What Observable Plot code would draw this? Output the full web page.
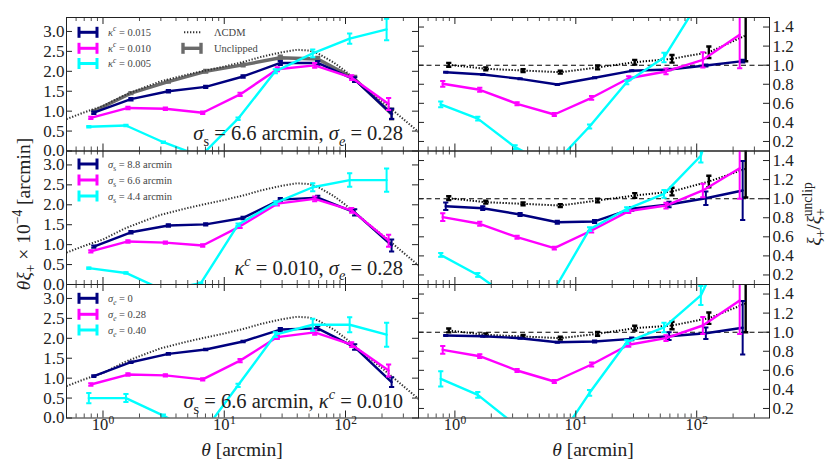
<!DOCTYPE html>
<html><head><meta charset="utf-8">
<script src="https://cdn.jsdelivr.net/npm/d3@7"></script>
<script src="https://cdn.jsdelivr.net/npm/@observablehq/plot@0.6"></script>
<style>
body{margin:0;background:#fff;}
#wrap{position:relative;width:831px;height:468px;overflow:hidden;background:#fff;font-family:"Liberation Serif",serif;}
#wrap svg{position:absolute;left:0;top:0;}
</style></head><body><div id="wrap"></div>
<script>
// ---------- data ----------
const theta = [0.84, 1.70, 3.46, 7.03, 14.3, 29.0, 59.0, 119, 240];
const thetaTheory = [0.5,0.7,1,1.5,2,3,5,7,10,15,20,30,40,50,60,80,100,150,200,300,400];
const xiTheory = [0.80,0.97,1.13,1.40,1.55,1.75,1.92,2.02,2.12,2.25,2.36,2.48,2.54,2.52,2.44,2.22,2.00,1.55,1.25,0.80,0.48];

// top-left: kappa^c variations
const tlGray = [1.00, 1.45, 1.74, 2.00, 2.16, 2.34, 2.31, 1.81, 0.93];
const tlGrayErr = [0.02,0.02,0.02,0.03,0.03,0.05,0.05,0.07,0.13];
const tlNavy = [0.96, 1.30, 1.50, 1.61, 1.87, 2.21, 2.21, 1.79, 0.93];
const tlNavyErr = [0.03,0.03,0.03,0.03,0.03,0.05,0.05,0.06,0.13];
const tlMag = [0.83, 1.08, 1.06, 0.96, 1.42, 2.05, 2.15, 1.84, 1.18];
const tlMagErr = [0.03,0.03,0.03,0.03,0.04,0.05,0.06,0.06,0.15];
const tlCyan = [0.61, 0.64, 0.22, -0.13, 0.81, 2.00, 2.45, 2.82, 3.05];
const tlCyanErr = [0.02,0.02,0.02,0.02,0.03,0.05,0.10,0.13,0.27];
// top-right ratios
const trBlack = [1.004, 0.962, 0.944, 0.926, 0.976, 1.031, 1.067, 1.136, 1.311];
const trBlackErr = [0.02,0.015,0.015,0.015,0.02,0.025,0.04,0.06,0.27];
const trNavy = [0.926, 0.902, 0.857, 0.797, 0.868, 0.941, 0.955, 0.997, 1.042];
const trNavyErr = [0.005,0.005,0.005,0.005,0.005,0.005,0.008,0.01,0.015];
const trMag = [0.805, 0.742, 0.595, 0.483, 0.658, 0.863, 0.934, 1.056, 1.319];
const trMagErr = [0.03,0.02,0.015,0.015,0.02,0.02,0.03,0.08,0.35];
const trCyan = [0.59, 0.44, 0.14, -0.06, 0.357, 0.82, 1.08, 1.70, 3.3];
const trCyanErr = [0.03,0.02,0.02,0.02,0.02,0.02,0.05,0.10,0.30];

// middle-left: sigma_s variations
const mlNavy = [0.95, 1.31, 1.48, 1.51, 1.67, 2.13, 2.18, 1.81, 0.98];
const mlNavyErr = [0.03,0.03,0.03,0.03,0.03,0.04,0.05,0.08,0.15];
const mlMag = [0.83, 1.08, 1.05, 0.98, 1.46, 2.03, 2.15, 1.86, 1.10];
const mlMagErr = [0.03,0.03,0.03,0.03,0.04,0.05,0.06,0.06,0.15];
const mlCyan = [0.41, 0.29, -0.14, 0.03, 1.50, 2.05, 2.44, 2.62, 2.62];
const mlCyanErr = [0.02,0.02,0.02,0.02,0.03,0.04,0.10,0.17,0.29];
// middle-right ratios
const mrBlack = [1.005, 0.963, 0.946, 0.928, 0.981, 1.033, 1.075, 1.18, 1.313];
const mrBlackErr = [0.02,0.015,0.015,0.015,0.02,0.025,0.04,0.06,0.30];
const mrNavy = [0.921, 0.900, 0.834, 0.753, 0.761, 0.894, 0.939, 1.005, 1.086];
const mrNavyErr = [0.04,0.02,0.015,0.015,0.015,0.02,0.03,0.07,0.31];
const mrMag = [0.806, 0.737, 0.596, 0.481, 0.666, 0.869, 0.928, 1.086, 1.32];
const mrMagErr = [0.04,0.02,0.015,0.015,0.02,0.02,0.03,0.07,0.32];
const mrCyan = [0.41, 0.20, -0.08, 0.01, 0.68, 0.89, 1.05, 1.45, 2.65];
const mrCyanErr = [0.02,0.02,0.02,0.02,0.02,0.02,0.04,0.07,0.30];

// bottom-left: sigma_e variations
const blNavy = [1.05, 1.40, 1.61, 1.72, 1.92, 2.22, 2.25, 1.78, 0.90];
const blNavyErr = [0.02,0.02,0.02,0.02,0.02,0.04,0.05,0.07,0.12];
const blMag = [0.84, 1.09, 1.07, 0.97, 1.44, 2.03, 2.15, 1.84, 1.19];
const blMagErr = [0.03,0.03,0.03,0.03,0.04,0.05,0.06,0.06,0.15];
const blCyan = [0.50, 0.50, 0.06, -0.45, 0.82, 2.09, 2.34, 2.34, 2.09];
const blCyanErr = [0.13,0.10,0.03,0.03,0.04,0.06,0.15,0.19,0.30];
// bottom-right ratios
const brBlack = [1.018, 0.972, 0.955, 0.937, 0.983, 1.042, 1.07, 1.147, 1.30];
const brBlackErr = [0.02,0.015,0.015,0.015,0.02,0.025,0.04,0.06,0.30];
const brNavy = [0.965, 0.958, 0.937, 0.895, 0.902, 0.930, 0.958, 0.989, 1.046];
const brNavyErr = [0.005,0.005,0.005,0.005,0.01,0.015,0.04,0.06,0.28];
const brMag = [0.815, 0.748, 0.598, 0.483, 0.661, 0.868, 0.937, 1.07, 1.332];
const brMagErr = [0.04,0.02,0.015,0.015,0.02,0.02,0.03,0.09,0.35];
const brCyan = [0.511, 0.343, 0.03, -0.22, 0.364, 0.895, 1.05, 1.385, 2.2];
const brCyanErr = [0.08,0.03,0.02,0.02,0.03,0.02,0.05,0.10,0.30];

const xMajorTicks = [1, 10, 100];
const xMinorTicks = [0.6,0.7,0.8,0.9,2,3,4,5,6,7,8,9,20,30,40,50,60,70,80,90,200,300];
const leftYTicks = [0, 0.5, 1.0, 1.5, 2.0, 2.5, 3.0];
const rightYTicks = [0.2, 0.4, 0.6, 0.8, 1.0, 1.2, 1.4];

// ---------- layout / style ----------
const W = 831, H = 468;
const colX = [[66, 418], [418, 769]];
const rowY = [[17, 150.5], [150.5, 284], [284, 417.5]];
const FONT = "Liberation Serif";
const C = {navy: "#00007f", mag: "#ff00ff", cyan: "#00ffff", gray: "#6a6a6a", black: "#000000"};
const DX = {navy: 0, mag: -3, cyan: -5, gray: 0, black: 3};
const DOTS = "1.3,1.7";

const rows = (ys, es) => theta.map((x, i) => ({x, y: ys[i], e: es[i]}));
const theory = thetaTheory.map((x, i) => ({x, y: xiTheory[i]}));

const capSymbol = {draw(ctx, size) { const r = Math.sqrt(size / Math.PI); ctx.moveTo(-r, 0); ctx.lineTo(r, 0); }};

function seriesMarks(data, color, dx, lw, ew, dash) {
  return [
    Plot.line(data, {x: "x", y: "y", stroke: color, strokeWidth: lw, dx, clip: true,
      strokeDasharray: dash, strokeLinecap: dash ? "butt" : "round"}),
    Plot.ruleX(data, {x: "x", y1: d => d.y - d.e, y2: d => d.y + d.e, stroke: color, strokeWidth: ew, dx, clip: true}),
    Plot.dot(data, {x: "x", y: d => d.y - d.e, symbol: capSymbol, r: 2.6, fill: "none", stroke: color, strokeWidth: ew, dx, clip: true}),
    Plot.dot(data, {x: "x", y: d => d.y + d.e, symbol: capSymbol, r: 2.6, fill: "none", stroke: color, strokeWidth: ew, dx, clip: true})
  ];
}

function panel(r, c, content) {
  const [x0, x1] = colX[c], [y0, y1] = rowY[r];
  const fw = x1 - x0, fh = y1 - y0;
  const yTicks = c === 0 ? leftYTicks : rightYTicks;
  const marks = [...content];
  marks.push(
    Plot.tickX(xMajorTicks, {x: d => d, insetTop: fh - 7, stroke: "#222", strokeWidth: 1}),
    Plot.tickX(xMajorTicks, {x: d => d, insetBottom: fh - 7, stroke: "#222", strokeWidth: 1}),
    Plot.tickX(xMinorTicks, {x: d => d, insetTop: fh - 4, stroke: "#222", strokeWidth: 0.8}),
    Plot.tickX(xMinorTicks, {x: d => d, insetBottom: fh - 4, stroke: "#222", strokeWidth: 0.8}),
    Plot.tickY(yTicks, {y: d => d, insetRight: fw - 6, stroke: "#222", strokeWidth: 1}),
    Plot.tickY(yTicks, {y: d => d, insetLeft: fw - 6, stroke: "#222", strokeWidth: 1}),
    Plot.frame({stroke: "#222", strokeWidth: 1})
  );
  if (c === 0) {
    marks.push(Plot.text(yTicks, {y: d => d, text: d => d.toFixed(1), frameAnchor: "left", textAnchor: "end", dx: -2, fontSize: 17, fill: "#222"}));
  } else {
    marks.push(Plot.text(yTicks, {y: d => d, text: d => d.toFixed(1), frameAnchor: "right", textAnchor: "start", dx: 3, fontSize: 17, fill: "#222"}));
  }
  if (r === 2) {
    marks.push(
      Plot.text(xMajorTicks, {x: d => d, text: () => "10", frameAnchor: "bottom", dy: 12, dx: -3, fontSize: 16.5, fill: "#222"}),
      Plot.text(xMajorTicks, {x: d => d, text: d => String(Math.round(Math.log10(d))), frameAnchor: "bottom", dy: 6, dx: 8.5, fontSize: 11.5, fill: "#222"})
    );
  }
  return Plot.plot({
    width: W, height: H,
    marginLeft: x0, marginRight: W - x1, marginTop: y0, marginBottom: H - y1,
    x: {type: "log", domain: [0.5, 400], axis: null},
    y: {domain: c === 0 ? [0, 3.35] : [0.1, 1.5], axis: null},
    style: {background: "transparent", fontFamily: FONT, overflow: "visible"},
    marks
  });
}

function leftContent(series, withGray) {
  const m = [];
  if (withGray) m.push(...seriesMarks(rows(tlGray, tlGrayErr), C.gray, DX.gray, 3.4, 2.6));
  m.push(Plot.line(theory, {x: "x", y: "y", stroke: "#333", strokeWidth: 2, strokeDasharray: DOTS, strokeLinecap: "butt", clip: true}));
  m.push(...seriesMarks(series[0], C.navy, DX.navy, 2.4, 2));
  m.push(...seriesMarks(series[1], C.mag, DX.mag, 2.4, 2));
  m.push(...seriesMarks(series[2], C.cyan, DX.cyan, 2.4, 2));
  return m;
}
function rightContent(black, series) {
  const m = [];
  m.push(Plot.ruleY([1], {y: d => d, stroke: "#000", strokeWidth: 1.1, strokeDasharray: "5,3.5"}));
  m.push(...seriesMarks(black, C.black, DX.black, 2, 2.4, DOTS));
  m.push(...seriesMarks(series[0], C.navy, DX.navy, 2.4, 2));
  m.push(...seriesMarks(series[1], C.mag, DX.mag, 2.4, 2));
  m.push(...seriesMarks(series[2], C.cyan, DX.cyan, 2.4, 2));
  return m;
}

const wrap = document.getElementById("wrap");
wrap.append(panel(0, 0, leftContent([rows(tlNavy, tlNavyErr), rows(tlMag, tlMagErr), rows(tlCyan, tlCyanErr)], true)));
wrap.append(panel(0, 1, rightContent(rows(trBlack, trBlackErr), [rows(trNavy, trNavyErr), rows(trMag, trMagErr), rows(trCyan, trCyanErr)])));
wrap.append(panel(1, 0, leftContent([rows(mlNavy, mlNavyErr), rows(mlMag, mlMagErr), rows(mlCyan, mlCyanErr)], false)));
wrap.append(panel(1, 1, rightContent(rows(mrBlack, mrBlackErr), [rows(mrNavy, mrNavyErr), rows(mrMag, mrMagErr), rows(mrCyan, mrCyanErr)])));
wrap.append(panel(2, 0, leftContent([rows(blNavy, blNavyErr), rows(blMag, blMagErr), rows(blCyan, blCyanErr)], false)));
wrap.append(panel(2, 1, rightContent(rows(brBlack, brBlackErr), [rows(brNavy, brNavyErr), rows(brMag, brMagErr), rows(brCyan, brCyanErr)])));

// ---------- overlay: labels, legends, annotations ----------
const ov = d3.select(wrap).append("svg").attr("width", W).attr("height", H)
  .style("font-family", FONT).style("overflow", "visible");

function rich(g, parts, size, attrs = {}) {
  const t = g.append("text").attr("font-size", size).attr("fill", attrs.fill || "#222");
  for (const k of ["x", "y", "text-anchor", "transform"]) if (attrs[k] != null) t.attr(k, attrs[k]);
  let shift = 0;
  for (const p of parts) {
    const target = p.sub ? size * 0.28 : p.sup ? -size * 0.42 : 0;
    const ts = t.append("tspan").attr("dy", target - shift)
      .attr("font-size", (p.sub || p.sup) ? size * 0.7 : size)
      .attr("font-style", p.it ? "italic" : "normal").text(p.t);
    if (p.dx) ts.attr("dx", p.dx);
    shift = target;
  }
  return t;
}

// axis titles
rich(ov, [{t: "θξ", it: true}, {t: "+", sub: true}, {t: " × 10"}, {t: "−4", sup: true}, {t: " [arcmin]"}], 19.5,
  {transform: "translate(30,214) rotate(-90)", "text-anchor": "middle"});
rich(ov, [{t: "ξ", it: true}, {t: "+", sub: true}, {t: "/"}, {t: "ξ", it: true}, {t: "+", sub: true}, {t: "unclip", sup: true, dx: -8}], 19.5,
  {transform: "translate(820,214) rotate(-90)", "text-anchor": "middle"});
rich(ov, [{t: "θ", it: true}, {t: " [arcmin]"}], 19.5, {x: 242, y: 456, "text-anchor": "middle"});
rich(ov, [{t: "θ", it: true}, {t: " [arcmin]"}], 19.5, {x: 593, y: 456, "text-anchor": "middle"});

// panel annotations
const AS = 20.5;
rich(ov, [{t: "σ", it: true}, {t: "s", sub: true}, {t: " = 6.6 arcmin, "}, {t: "σ", it: true}, {t: "e", sub: true, it: true}, {t: " = 0.28"}], AS,
  {x: 403, y: 140, "text-anchor": "end"});
rich(ov, [{t: "κ", it: true}, {t: "c", sup: true, it: true}, {t: " = 0.010, "}, {t: "σ", it: true}, {t: "e", sub: true, it: true}, {t: " = 0.28"}], AS,
  {x: 403, y: 274.5, "text-anchor": "end"});
rich(ov, [{t: "σ", it: true}, {t: "s", sub: true}, {t: " = 6.6 arcmin, "}, {t: "κ", it: true}, {t: "c", sup: true, it: true}, {t: " = 0.010"}], AS,
  {x: 403, y: 408, "text-anchor": "end"});

// legends
function hGlyph(x, y, color, w = 3) {
  const g = ov.append("g").attr("stroke", color).attr("stroke-width", w).attr("fill", "none");
  g.append("line").attr("x1", x).attr("x2", x + 18).attr("y1", y).attr("y2", y);
  g.append("line").attr("x1", x).attr("x2", x).attr("y1", y - 5.5).attr("y2", y + 5.5);
  g.append("line").attr("x1", x + 18).attr("x2", x + 18).attr("y1", y - 5.5).attr("y2", y + 5.5);
}
const LS = 10.5, LC = "#444";
const legTL = [
  {y: 32.3, c: C.navy, p: [{t: "κ", it: true}, {t: "c", sup: true, it: true}, {t: " = 0.015"}]},
  {y: 48.3, c: C.mag, p: [{t: "κ", it: true}, {t: "c", sup: true, it: true}, {t: " = 0.010"}]},
  {y: 63.5, c: C.cyan, p: [{t: "κ", it: true}, {t: "c", sup: true, it: true}, {t: " = 0.005"}]}
];
const legML = [
  {y: 164, c: C.navy, p: [{t: "σ", it: true}, {t: "s", sub: true}, {t: " = 8.8 arcmin"}]},
  {y: 180, c: C.mag, p: [{t: "σ", it: true}, {t: "s", sub: true}, {t: " = 6.6 arcmin"}]},
  {y: 196, c: C.cyan, p: [{t: "σ", it: true}, {t: "s", sub: true}, {t: " = 4.4 arcmin"}]}
];
const legBL = [
  {y: 298.3, c: C.navy, p: [{t: "σ", it: true}, {t: "e", sub: true, it: true}, {t: " = 0"}]},
  {y: 314.3, c: C.mag, p: [{t: "σ", it: true}, {t: "e", sub: true, it: true}, {t: " = 0.28"}]},
  {y: 330, c: C.cyan, p: [{t: "σ", it: true}, {t: "e", sub: true, it: true}, {t: " = 0.40"}]}
];
for (const e of [...legTL, ...legML, ...legBL]) {
  hGlyph(79, e.y, e.c);
  rich(ov, e.p, LS, {x: 108, y: e.y + 3.6, fill: LC});
}
ov.append("line").attr("x1", 184).attr("x2", 201).attr("y1", 32.3).attr("y2", 32.3)
  .attr("stroke", "#333").attr("stroke-width", 2).attr("stroke-dasharray", DOTS);
rich(ov, [{t: "ΛCDM"}], LS, {x: 214, y: 35.9, fill: LC});
hGlyph(183, 48.3, C.gray, 3.4);
rich(ov, [{t: "Unclipped"}], LS, {x: 214, y: 51.9, fill: LC});
</script></body></html>
